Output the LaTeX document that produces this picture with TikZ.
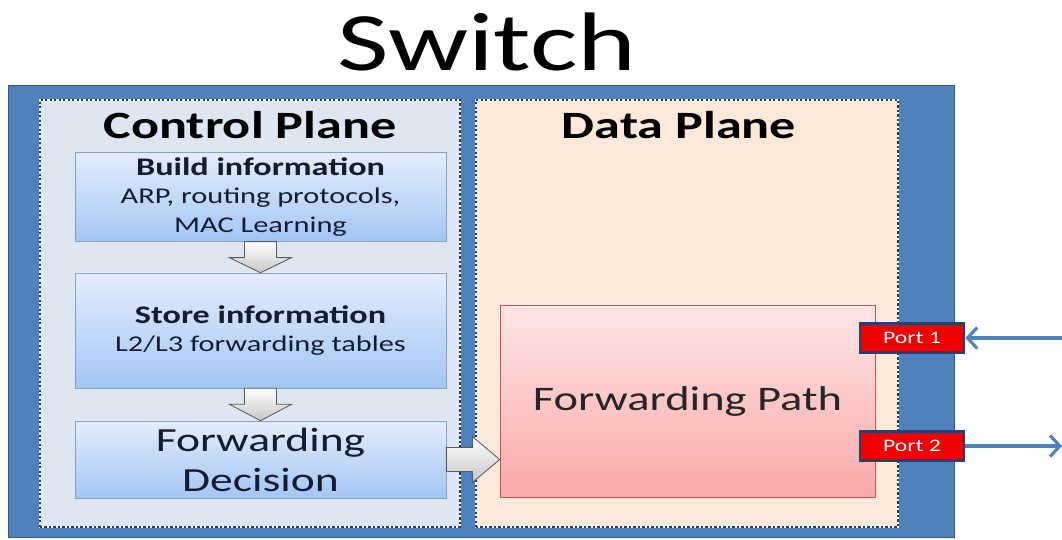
\documentclass[tikz,border=0pt]{standalone}
\usepackage{fontspec}
\setmainfont[FakeStretch=1.35]{Carlito}
\usepackage{tikz}
\usetikzlibrary{positioning,calc,arrows.meta}

\definecolor{switchblue}{RGB}{79,129,189}
\definecolor{switchedge}{RGB}{52,88,138}
\definecolor{dotnavy}{RGB}{38,58,100}
\definecolor{ctrlfill}{RGB}{221,230,241}
\definecolor{datafill}{RGB}{253,233,217}
\definecolor{boxtop}{RGB}{228,237,253}
\definecolor{boxbottom}{RGB}{163,198,244}
\definecolor{boxedge}{RGB}{135,160,195}
\definecolor{fwdtop}{RGB}{255,230,230}
\definecolor{fwdbottom}{RGB}{250,168,168}
\definecolor{fwdedge}{RGB}{200,85,85}
\definecolor{portred}{RGB}{240,0,0}
\definecolor{portedge}{RGB}{36,66,112}
\definecolor{textnavy}{RGB}{20,28,50}

\tikzset{
  plane/.style={draw=white, line width=2pt,
    postaction={draw=dotnavy, line width=2pt, dash pattern=on 1.6pt off 1.6pt}},
  infobox/.style={draw=boxedge, top color=boxtop, bottom color=boxbottom,
    minimum width=9.275cm, align=center, text=textnavy},
  blockarrow/.style={draw=black!65, top color=white, bottom color=black!22, line width=0.6pt},
  portbox/.style={draw=portedge, line width=1.8pt, fill=portred, text=white,
    minimum width=2.6cm, minimum height=0.72cm, font=\fontsize{12.5}{14}\selectfont},
  portarrow/.style={draw=switchblue, line width=2.2pt,
    -{Straight Barb[length=7pt,width=15pt,line width=2.2pt]}}
}

\begin{document}
\begin{tikzpicture}[x=0.025cm,y=-0.025cm]
\useasboundingbox (0,0) rectangle (1062,539);

\node[anchor=base] (title) at (487,70) {\fontsize{59}{60}\selectfont Switch};

% switch body and the two planes
\node[draw=switchedge, fill=switchblue, minimum width=23.65cm, minimum height=11.3cm] (sw) at (481,311) {};
\node[plane, fill=ctrlfill, minimum width=10.5cm, minimum height=10.675cm] (ctrl) at (250,313.5) {};
\node[plane, fill=datafill, minimum width=10.55cm, minimum height=10.675cm] (data) at (687,313.5) {};
\node[anchor=base] (ctrltitle) at ($(ctrl.north)+(0,40)$) {\bfseries\fontsize{27.5}{30}\selectfont Control Plane};
\node[anchor=base] (datatitle) at ($(data.north)+(-8,40)$) {\bfseries\fontsize{27.5}{30}\selectfont Data Plane};

% control plane boxes
\node[infobox, minimum height=2.2cm, font=\fontsize{16}{20.5}\selectfont] (build) at (260.5,197)
  {{\bfseries\fontsize{18}{20.5}\selectfont Build information}\\ARP, routing protocols,\\MAC Learning};
\node[infobox, minimum height=2.875cm, font=\fontsize{16}{20.5}\selectfont] (store) at (260.5,330.5)
  {{\bfseries\fontsize{18}{20.5}\selectfont Store information}\\L2/L3 forwarding tables};
\node[infobox, minimum height=1.925cm, font=\fontsize{24}{28.5}\selectfont] (decision) at (260.5,459.5)
  {Forwarding\\Decision};

% data plane
\node[draw=fwdedge, top color=fwdtop, bottom color=fwdbottom, minimum width=9.375cm, minimum height=4.8cm,
  font=\fontsize{24.5}{26}\selectfont, text=black!85] (fwd) at (687.5,401) {Forwarding Path};

\node[portbox] (port1) at (912,338) {Port 1};
\node[portbox] (port2) at (912,446) {Port 2};

% block arrows
\draw[blockarrow] ($(build.south)+(-16,0)$) -- ++(0,16) -- ++(-15,0) -- (store.north)
  -- ($(build.south)+(31,16)$) -- ++(-15,0) -- ++(0,-16) -- cycle;
\draw[blockarrow] ($(store.south)+(-16,0)$) -- ++(0,16) -- ++(-15,0) -- (decision.north)
  -- ($(store.south)+(31,16)$) -- ++(-15,0) -- ++(0,-16) -- cycle;
\draw[blockarrow] ($(decision.east)+(0,-12)$) -- ++(26,0) -- ++(0,-11) -- (fwd.west |- decision.east)
  -- ($(decision.east)+(26,23)$) -- ++(0,-11) -- ++(-26,0) -- cycle;

% port links
\coordinate (in1) at (1062,338);
\coordinate (out2) at (1062,446);
\draw[portarrow] (in1) -- (port1.east);
\draw[portarrow] (port2.east) -- (out2);
\end{tikzpicture}
\end{document}
